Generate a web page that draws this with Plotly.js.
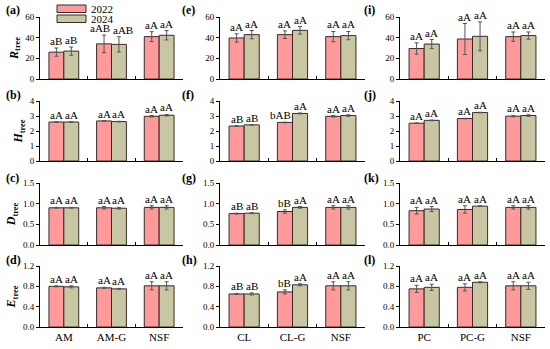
<!DOCTYPE html>
<html><head><meta charset="utf-8">
<script src="https://cdn.plot.ly/plotly-3.0.1.min.js"></script>
<style>html,body{margin:0;padding:0;background:#fff}#chart{width:550px;height:349px}</style>
</head><body><div id="chart"></div>
<script>
// categories per column
const catsAM = ['AM', 'AM-G', 'NSF'];
const catsCL = ['CL', 'CL-G', 'NSF'];
const catsPC = ['PC', 'PC-G', 'NSF'];
const years = ['2022', '2024'];

// (a) R tree, AM
const aM22 = [26, 34, 41], aM24 = [27, 33.5, 42.3], aE22 = [4, 8.5, 4.8], aE24 = [4, 7.4, 4.5];
const aL22 = ['aB', 'aAB', 'aA'], aL24 = ['aB', 'aAB', 'aA'];
// (b) H tree, AM
const bM22 = [2.6, 2.67, 2.98], bM24 = [2.6, 2.63, 3.05], bE22 = [0.02, 0.02, 0.05], bE24 = [0.02, 0.02, 0.05];
const bL22 = ['aA', 'aA', 'aA'], bL24 = ['aA', 'aA', 'aA'];
// (c) D tree, AM
const cM22 = [0.9, 0.9, 0.91], cM24 = [0.9, 0.89, 0.91], cE22 = [0.01, 0.03, 0.04], cE24 = [0.01, 0.02, 0.04];
const cL22 = ['aA', 'aA', 'aA'], cL24 = ['aA', 'aA', 'aA'];
// (d) E tree, AM
const dM22 = [0.8, 0.77, 0.81], dM24 = [0.79, 0.75, 0.81], dE22 = [0.01, 0.01, 0.08], dE24 = [0.02, 0.01, 0.08];
const dL22 = ['aA', 'aA', 'aA'], dL24 = ['aA', 'aA', 'aA'];
// (e) R tree, CL
const eM22 = [39.7, 42.9, 41], eM24 = [42.9, 47.1, 42], eE22 = [4, 3.7, 5], eE24 = [4, 3.7, 4];
const eL22 = ['aA', 'aA', 'aA'], eL24 = ['aA', 'aA', 'aA'];
// (f) H tree, CL
const fM22 = [2.33, 2.57, 2.98], fM24 = [2.41, 3.17, 3.03], fE22 = [0.02, 0.02, 0.05], fE24 = [0.02, 0.03, 0.05];
const fL22 = ['aB', 'bAB', 'aA'], fL24 = ['aB', 'aA', 'aA'];
// (g) D tree, CL
const gM22 = [0.76, 0.81, 0.91], gM24 = [0.77, 0.91, 0.91], gE22 = [0.01, 0.04, 0.04], gE24 = [0.01, 0.02, 0.04];
const gL22 = ['aB', 'bB', 'aA'], gL24 = ['aB', 'aA', 'aA'];
// (h) E tree, CL
const hM22 = [0.65, 0.69, 0.81], hM24 = [0.65, 0.83, 0.81], hE22 = [0.01, 0.04, 0.08], hE24 = [0.02, 0.02, 0.08];
const hL22 = ['aB', 'bB', 'aA'], hL24 = ['aB', 'aA', 'aA'];
// (i) R tree, PC
const iM22 = [29.5, 38.7, 41], iM24 = [33.8, 41.3, 42], iE22 = [5.5, 15, 4.5], iE24 = [4.4, 14, 3.5];
const iL22 = ['aA', 'aA', 'aA'], iL24 = ['aA', 'aA', 'aA'];
// (j) H tree, PC
const jM22 = [2.52, 2.83, 2.99], jM24 = [2.71, 3.23, 3.03], jE22 = [0.02, 0.02, 0.05], jE24 = [0.02, 0.02, 0.05];
const jL22 = ['aA', 'aA', 'aA'], jL24 = ['aA', 'aA', 'aA'];
// (k) D tree, PC
const kM22 = [0.83, 0.86, 0.91], kM24 = [0.87, 0.94, 0.91], kE22 = [0.08, 0.09, 0.04], kE24 = [0.06, 0.01, 0.04];
const kL22 = ['aA', 'aA', 'aA'], kL24 = ['aA', 'aA', 'aA'];
// (l) E tree, PC
const lM22 = [0.75, 0.78, 0.81], lM24 = [0.78, 0.88, 0.81], lE22 = [0.07, 0.07, 0.08], lE24 = [0.06, 0.01, 0.07];
const lL22 = ['aA', 'aA', 'aA'], lL24 = ['aA', 'aA', 'aA'];

const panelLabels = ['(a)', '(b)', '(c)', '(d)', '(e)', '(f)', '(g)', '(h)', '(i)', '(j)', '(k)', '(l)'];
const yTitles = ['<b><i>R</i><sub>tree</sub></b>', '<b><i>H</i><sub>tree</sub></b>', '<b><i>D</i><sub>tree</sub></b>', '<b><i>E</i><sub>tree</sub></b>'];

const panels = [
  [catsAM, aM22, aM24, aE22, aE24, aL22, aL24],
  [catsAM, bM22, bM24, bE22, bE24, bL22, bL24],
  [catsAM, cM22, cM24, cE22, cE24, cL22, cL24],
  [catsAM, dM22, dM24, dE22, dE24, dL22, dL24],
  [catsCL, eM22, eM24, eE22, eE24, eL22, eL24],
  [catsCL, fM22, fM24, fE22, fE24, fL22, fL24],
  [catsCL, gM22, gM24, gE22, gE24, gL22, gL24],
  [catsCL, hM22, hM24, hE22, hE24, hL22, hL24],
  [catsPC, iM22, iM24, iE22, iE24, iL22, iL24],
  [catsPC, jM22, jM24, jE22, jE24, jL22, jL24],
  [catsPC, kM22, kM24, kE22, kE24, kL22, kL24],
  [catsPC, lM22, lM24, lE22, lE24, lL22, lL24]
];

const W = 550, H = 349;
const colX = [[40, 183], [220, 365], [400, 545]];
const rowY = [[17, 79], [101, 161], [183, 245], [266, 327]];
const rowRange = [[0, 60], [0, 4], [0, 1.5], [0, 1.2]];
const rowDtick = [20, 1, 0.5, 0.4];
const rowFmt = ['d', 'd', '.1f', '.1f'];
const labelPos = [[4, 180, 362], [10, 95, 178, 260]];

const colors = ['#FF9A9A', '#C9C7A3'];
const edge = '#3a2a2a';
const serif = 'Liberation Serif, Times New Roman, serif';

const traces = [];
const annotations = [];
const shapes = [];
const layout = {
  width: W, height: H,
  margin: {l: 0, r: 0, t: 0, b: 0},
  paper_bgcolor: '#fff', plot_bgcolor: '#fff',
  barmode: 'group', bargap: 0.375, bargroupgap: 0,
  font: {family: serif, size: 10, color: '#000'},
  showlegend: false,
  annotations: annotations,
  shapes: shapes
};

panels.forEach((p, idx) => {
  const col = Math.floor(idx / 4), row = idx % 4;
  const k = idx + 1;
  const xa = 'x' + (k === 1 ? '' : k), ya = 'y' + (k === 1 ? '' : k);
  const [cats, m22, m24, e22, e24, L22, L24] = p;
  [[m22, e22], [m24, e24]].forEach(([m, e], j) => {
    traces.push({
      type: 'bar', x: cats, y: m, name: years[j], xaxis: xa, yaxis: ya,
      marker: {color: colors[j], line: {color: edge, width: 1}},
      error_y: {type: 'data', array: e, visible: true, color: '#555', thickness: 1, width: 2},
      hoverinfo: 'skip'
    });
  });
  [[m22, e22, L22, -0.156, -1], [m24, e24, L24, 0.156, 1]].forEach(([m, e, L, off, dir]) => {
    for (let i = 0; i < cats.length; i++) {
      annotations.push({
        xref: xa, yref: ya, x: i + off, y: m[i] + e[i], text: L[i], showarrow: false,
        yanchor: 'bottom', xanchor: 'center', yshift: -1,
        xshift: L[i].length > 2 ? dir * 4 : 0,
        font: {family: serif, size: 11, color: '#000'}
      });
    }
  });
  const axKeyX = 'xaxis' + (k === 1 ? '' : k), axKeyY = 'yaxis' + (k === 1 ? '' : k);
  layout[axKeyX] = {
    domain: [colX[col][0] / W, colX[col][1] / W], anchor: ya,
    type: 'category', categoryorder: 'array', categoryarray: cats, range: [-0.5, 2.5],
    showline: true, linecolor: '#000', linewidth: 1, mirror: false,
    ticks: 'inside', tickson: 'boundaries', ticklen: 3, tickcolor: '#000', tickwidth: 1,
    showticklabels: row === 3, tickfont: {family: serif, size: 11},
    showgrid: false, zeroline: false, fixedrange: true
  };
  layout[axKeyY] = {
    domain: [1 - rowY[row][1] / H, 1 - rowY[row][0] / H], anchor: xa,
    range: rowRange[row], dtick: rowDtick[row], tick0: 0, tickformat: rowFmt[row],
    showline: true, linecolor: '#000', linewidth: 1,
    ticks: 'outside', ticklen: 3, tickcolor: '#000', tickwidth: 1,
    tickfont: {family: serif, size: 9},
    showgrid: false, zeroline: false, fixedrange: true
  };
  if (col === 0) {
    layout[axKeyY].title = {text: yTitles[row], font: {family: serif, size: 12}, standoff: 4};
  }
  annotations.push({
    xref: 'paper', yref: 'paper', x: labelPos[0][col] / W, y: 1 - labelPos[1][row] / H,
    xanchor: 'left', yanchor: 'middle', text: '<b>' + panelLabels[idx] + '</b>', showarrow: false,
    font: {family: serif, size: 12, color: '#000'}
  });
});

// Legend (drawn as swatches + labels, matching the wide rectangular keys of the reference)
const legTop = [5, 15];
years.forEach((yr, j) => {
  shapes.push({
    type: 'rect', xref: 'paper', yref: 'paper',
    x0: 57 / W, x1: 86 / W, y0: 1 - (legTop[j] + 7.5) / H, y1: 1 - legTop[j] / H,
    fillcolor: colors[j], line: {color: edge, width: 1}
  });
  annotations.push({
    xref: 'paper', yref: 'paper', x: 89 / W, y: 1 - (legTop[j] + 3.8) / H,
    xanchor: 'left', yanchor: 'middle', text: yr, showarrow: false,
    font: {family: serif, size: 11, color: '#000'}
  });
});

Plotly.newPlot('chart', traces, layout, {displayModeBar: false, staticPlot: true});
</script>
</body></html>
